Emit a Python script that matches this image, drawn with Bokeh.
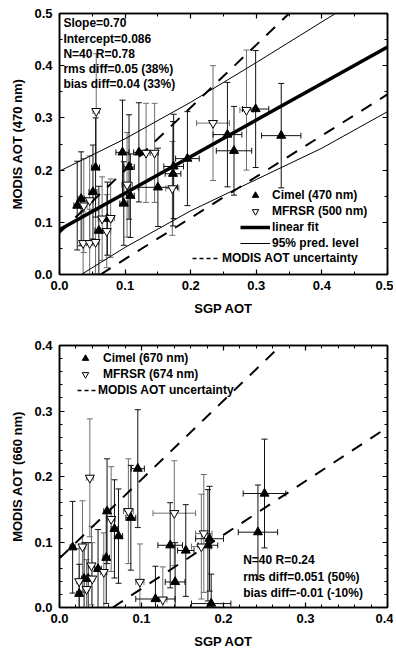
from bokeh.plotting import figure
from bokeh.models import (Range1d, FixedTicker, LinearAxis, Whisker, TeeHead,
                          ColumnDataSource, Legend, LegendItem, Label,
                          PrintfTickFormatter)
from bokeh.layouts import column
from bokeh.embed import file_html
from bokeh.resources import INLINE

FONT = "Liberation Sans"

# ---------------- data: top panel (470 nm) ----------------
top_cimel_x = [0.027, 0.033, 0.051, 0.055, 0.060, 0.073, 0.096, 0.121, 0.106, 0.108,
               0.098, 0.150, 0.173, 0.174, 0.195, 0.256, 0.266, 0.299, 0.338]
top_cimel_y = [0.132, 0.145, 0.158, 0.205, 0.084, 0.107, 0.234, 0.234, 0.206, 0.151,
               0.136, 0.167, 0.193, 0.207, 0.222, 0.268, 0.237, 0.317, 0.266]
top_cimel_xerr = [0.005, 0.005, 0.006, 0.006, 0.006, 0.008, 0.010, 0.008, 0.008, 0.006,
                  0.006, 0.030, 0.012, 0.015, 0.018, 0.022, 0.027, 0.020, 0.030]
top_cimel_yerr = [0.085, 0.090, 0.090, 0.095, 0.085, 0.070, 0.100, 0.095, 0.100, 0.080,
                  0.080, 0.075, 0.100, 0.100, 0.090, 0.100, 0.085, 0.112, 0.100]

top_mfrsr_x = [0.036, 0.046, 0.055, 0.037, 0.046, 0.056, 0.065, 0.078, 0.072, 0.103,
               0.132, 0.145, 0.172, 0.234, 0.285]
top_mfrsr_y = [0.060, 0.060, 0.062, 0.132, 0.142, 0.313, 0.107, 0.108, 0.083, 0.172,
               0.233, 0.233, 0.165, 0.290, 0.315]
top_mfrsr_xerr = [0.005, 0.005, 0.005, 0.005, 0.005, 0.005, 0.006, 0.006, 0.006, 0.008,
                  0.006, 0.006, 0.010, 0.025, 0.010]
top_mfrsr_yerr = [0.060, 0.065, 0.060, 0.090, 0.085, 0.110, 0.080, 0.075, 0.070, 0.100,
                  0.095, 0.095, 0.090, 0.110, 0.115]

top_fit_x = [0.0, 0.5]
top_fit_y = [0.086, 0.436]
top_band_x = [0.0, 0.1, 0.2, 0.3, 0.4, 0.5]
top_band_upper = [0.198, 0.260, 0.330, 0.406, 0.484, 0.561]
top_band_lower = [-0.026, 0.052, 0.122, 0.182, 0.242, 0.312]
top_unc_upper_x = [0.0, 0.35]
top_unc_upper_y = [0.08, 0.50]
top_unc_lower_x = [0.0625, 0.5]
top_unc_lower_y = [0.0, 0.345]

top_stats = ["Slope=0.70", "Intercept=0.086", "N=40 R=0.78",
             "rms diff=0.05 (38%)", "bias diff=0.04 (33%)"]

# ---------------- data: bottom panel (660 nm) ----------------
bot_cimel_x = [0.0955, 0.058, 0.067, 0.072, 0.087, 0.016, 0.057, 0.047, 0.030, 0.035,
               0.024, 0.117, 0.135, 0.154, 0.141, 0.183, 0.181, 0.185, 0.250, 0.242]
bot_cimel_y = [0.212, 0.147, 0.120, 0.109, 0.137, 0.092, 0.076, 0.059, 0.044, 0.044,
               0.021, 0.013, 0.095, 0.087, 0.039, 0.105, 0.095, 0.006, 0.174, 0.115]
bot_cimel_xerr = [0.008, 0.004, 0.004, 0.005, 0.006, 0.003, 0.004, 0.004, 0.003, 0.003,
                  0.003, 0.024, 0.015, 0.010, 0.012, 0.017, 0.012, 0.024, 0.026, 0.024]
bot_cimel_yerr = [0.090, 0.080, 0.075, 0.072, 0.080, 0.070, 0.070, 0.060, 0.055, 0.055,
                  0.045, 0.050, 0.065, 0.070, 0.060, 0.080, 0.085, 0.045, 0.083, 0.072]

bot_mfrsr_x = [0.037, 0.063, 0.084, 0.028, 0.039, 0.054, 0.024, 0.040, 0.033, 0.098,
               0.126, 0.140, 0.176, 0.173]
bot_mfrsr_y = [0.198, 0.135, 0.147, 0.093, 0.064, 0.054, 0.040, 0.044, 0.028, 0.039,
               0.012, 0.144, 0.113, 0.093]
bot_mfrsr_xerr = [0.004, 0.005, 0.006, 0.004, 0.004, 0.004, 0.003, 0.003, 0.003, 0.005,
                  0.005, 0.026, 0.010, 0.012]
bot_mfrsr_yerr = [0.090, 0.080, 0.080, 0.070, 0.060, 0.060, 0.050, 0.055, 0.045, 0.058,
                  0.050, 0.080, 0.090, 0.080]

bot_unc_upper_x = [0.0, 0.27]
bot_unc_upper_y = [0.075, 0.40]
bot_unc_lower_x = [0.065, 0.4]
bot_unc_lower_y = [0.0, 0.275]

bot_stats = ["N=40 R=0.24", "rms diff=0.051 (50%)", "bias diff=-0.01 (-10%)"]

top_ticks = [0.0, 0.1, 0.2, 0.3, 0.4, 0.5]
top_minor = [0.05, 0.15, 0.25, 0.35, 0.45]
bot_ticks = [0.0, 0.1, 0.2, 0.3, 0.4]
bot_minor = [0.02, 0.04, 0.06, 0.08, 0.12, 0.14, 0.16, 0.18, 0.22, 0.24, 0.26, 0.28,
             0.32, 0.34, 0.36, 0.38]


def make_source(xs, ys, xe, ye):
    return ColumnDataSource(dict(
        x=xs, y=ys,
        lo=[a - b for a, b in zip(ys, ye)], hi=[a + b for a, b in zip(ys, ye)],
        xlo=[a - b for a, b in zip(xs, xe)], xhi=[a + b for a, b in zip(xs, xe)]))


def add_errorbars(p, src, color):
    for dim, base, lo, hi in (("height", "x", "lo", "hi"), ("width", "y", "xlo", "xhi")):
        w = Whisker(base=base, lower=lo, upper=hi, source=src, dimension=dim,
                    line_color=color, line_width=1,
                    upper_head=TeeHead(size=6, line_color=color, line_width=1),
                    lower_head=TeeHead(size=6, line_color=color, line_width=1))
        p.add_layout(w)


def style(p, ticks, minor, xlabel, ylabel):
    p.xaxis.axis_label = xlabel
    p.yaxis.axis_label = ylabel
    for ax in (p.xaxis[0], p.yaxis[0]):
        ax.ticker = FixedTicker(ticks=ticks, minor_ticks=minor)
        ax.formatter = PrintfTickFormatter(format="%.1f")
        ax.major_tick_in = 5
        ax.major_tick_out = 0
        ax.minor_tick_in = 3
        ax.minor_tick_out = 0
        ax.axis_line_width = 1.5
        ax.major_tick_line_width = 1.2
        ax.major_label_text_font = FONT
        ax.major_label_text_font_style = "bold"
        ax.major_label_text_font_size = "13px"
        ax.major_label_text_color = "black"
        ax.axis_label_text_font = FONT
        ax.axis_label_text_font_style = "bold"
        ax.axis_label_text_font_size = "13px"
        ax.axis_label_text_color = "black"
    p.xaxis.major_label_standoff = 6
    p.xaxis.axis_label_standoff = 8
    p.yaxis.major_label_standoff = 7
    p.yaxis.axis_label_standoff = 6
    for loc in ("above", "right"):
        ax = LinearAxis(ticker=FixedTicker(ticks=ticks, minor_ticks=minor),
                        major_label_text_font_size="0px", major_label_text_alpha=0,
                        major_label_standoff=0,
                        major_tick_in=5, major_tick_out=0, minor_tick_in=3,
                        minor_tick_out=0, axis_line_width=1.5, major_tick_line_width=1.2)
        p.add_layout(ax, loc)
    p.xgrid.visible = False
    p.ygrid.visible = False
    p.outline_line_color = "black"
    p.outline_line_width = 1.5
    p.background_fill_color = "white"
    p.border_fill_color = "white"


def add_legend(p, items, loc, glyph_width, standoff):
    lg = Legend(items=items, location=loc, glyph_width=glyph_width, glyph_height=16,
                label_height=16, label_standoff=standoff, padding=0, margin=0, spacing=0,
                border_line_alpha=0, background_fill_alpha=0, inactive_fill_alpha=0,
                label_text_font=FONT, label_text_font_style="bold",
                label_text_font_size="12px", label_text_color="black")
    p.add_layout(lg)


# ---------------- top figure ----------------
p1 = figure(frame_width=328, frame_height=261, x_range=Range1d(0, 0.5),
            y_range=Range1d(0, 0.5), output_backend="svg", toolbar_location=None,
            min_border_left=59, min_border_right=6, min_border_top=13, min_border_bottom=46)
style(p1, top_ticks, top_minor, "SGP AOT", "MODIS AOT (470 nm)")

s_tc = make_source(top_cimel_x, top_cimel_y, top_cimel_xerr, top_cimel_yerr)
s_tm = make_source(top_mfrsr_x, top_mfrsr_y, top_mfrsr_xerr, top_mfrsr_yerr)
add_errorbars(p1, s_tm, "#6e6e6e")
add_errorbars(p1, s_tc, "#111111")

p1.line(top_unc_upper_x, top_unc_upper_y, line_color="black", line_width=2, line_dash="12 10")
p1.line(top_unc_lower_x, top_unc_lower_y, line_color="black", line_width=2, line_dash="12 10")
r_band = p1.line(top_band_x, top_band_upper, line_color="black", line_width=1)
p1.line(top_band_x, top_band_lower, line_color="black", line_width=1)
r_fit = p1.line(top_fit_x, top_fit_y, line_color="black", line_width=3.5)

r_tc = p1.scatter("x", "y", source=s_tc, marker="triangle", size=9,
                  fill_color="black", line_color="black")
r_tm = p1.scatter("x", "y", source=s_tm, marker="inverted_triangle", size=9,
                  fill_color="white", line_color="black", line_width=1)
# legend-only proxy (hidden) with a short dash pattern
r_dash1 = p1.line(top_unc_upper_x, top_unc_upper_y, line_color="black", line_width=1.5,
                  line_dash="4 3", visible=False)

add_legend(p1, [LegendItem(label="Cimel (470 nm)", renderers=[r_tc]),
                LegendItem(label="MFRSR (500 nm)", renderers=[r_tm]),
                LegendItem(label="linear fit", renderers=[r_fit]),
                LegendItem(label="95% pred. level", renderers=[r_band])],
           (181, 23), 30, 2)
add_legend(p1, [LegendItem(label="MODIS AOT uncertainty", renderers=[r_dash1])],
           (133, 8), 27, 3)

for i, t in enumerate(top_stats):
    p1.add_layout(Label(x=0.006, y=0.481 - i * 0.0290, text=t, text_font=FONT,
                        text_font_style="bold", text_font_size="12px",
                        text_baseline="middle", text_color="black"))

# ---------------- bottom figure ----------------
p2 = figure(frame_width=328, frame_height=262, x_range=Range1d(0, 0.4),
            y_range=Range1d(0, 0.4), output_backend="svg", toolbar_location=None,
            min_border_left=59, min_border_right=6, min_border_top=25, min_border_bottom=46)
style(p2, bot_ticks, bot_minor, "SGP AOT", "MODIS AOT (660 nm)")

s_bc = make_source(bot_cimel_x, bot_cimel_y, bot_cimel_xerr, bot_cimel_yerr)
s_bm = make_source(bot_mfrsr_x, bot_mfrsr_y, bot_mfrsr_xerr, bot_mfrsr_yerr)
add_errorbars(p2, s_bm, "#6e6e6e")
add_errorbars(p2, s_bc, "#111111")

p2.line(bot_unc_upper_x, bot_unc_upper_y, line_color="black", line_width=2, line_dash="12 10")
p2.line(bot_unc_lower_x, bot_unc_lower_y, line_color="black", line_width=2, line_dash="12 10")

r_bc = p2.scatter("x", "y", source=s_bc, marker="triangle", size=9,
                  fill_color="black", line_color="black")
r_bm = p2.scatter("x", "y", source=s_bm, marker="inverted_triangle", size=9,
                  fill_color="white", line_color="black", line_width=1)
r_dash2 = p2.line(bot_unc_upper_x, bot_unc_upper_y, line_color="black", line_width=1.5,
                  line_dash="4 3", visible=False)

add_legend(p2, [LegendItem(label="Cimel (670 nm)", renderers=[r_bc]),
                LegendItem(label="MFRSR (674 nm)", renderers=[r_bm])],
           (11, 225), 30, 3)
add_legend(p2, [LegendItem(label="MODIS AOT uncertainty", renderers=[r_dash2])],
           (18, 209), 20, 1)

for i, t in enumerate(bot_stats):
    p2.add_layout(Label(x=0.224, y=0.0718 - i * 0.0245, text=t, text_font=FONT,
                        text_font_style="bold", text_font_size="12px",
                        text_baseline="middle", text_color="black"))

layout = column(p1, p2, spacing=0)
open("out.html", "w").write(file_html(layout, INLINE))
